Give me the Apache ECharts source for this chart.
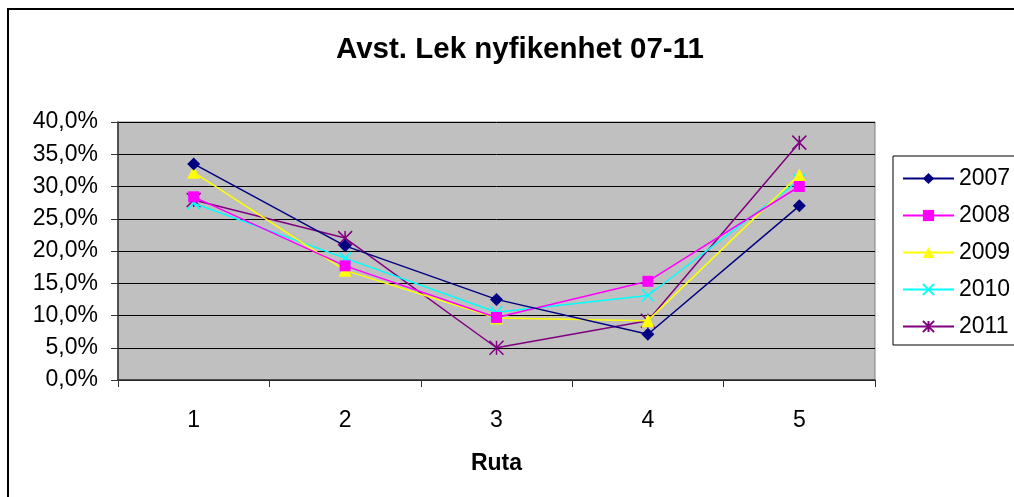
<!DOCTYPE html>
<html>
<head>
<meta charset="utf-8">
<script src="https://cdn.jsdelivr.net/npm/echarts@6/dist/echarts.min.js"></script>
<style>
    html, body { margin: 0; padding: 0; background: #fff; }
    #chart { width: 1014px; height: 497px; }
</style>
</head>
<body>
<div id="chart"></div>
<script>
// Ruta 1-5, andel per år
const categories = ['1', '2', '3', '4', '5'];
const years = ['2007', '2008', '2009', '2010', '2011'];
const y2007 = [0.335, 0.208, 0.125, 0.071, 0.270];
const y2008 = [0.284, 0.177, 0.097, 0.153, 0.300];
const y2009 = [0.322, 0.170, 0.096, 0.092, 0.318];
const y2010 = [0.274, 0.189, 0.105, 0.131, 0.310];
const y2011 = [0.279, 0.220, 0.050, 0.092, 0.368];

const colors = ['#000080', '#FF00FF', '#FFFF00', '#00FFFF', '#800080'];
const symbols = [
    'diamond',
    'rect',
    'triangle',
    'path://M0 0 L10 10 M10 0 L0 10',
    'path://M0 0 L10 10 M10 0 L0 10 M5 0 L5 10'
];
const sizes = [13, 11, 13, 12, 14];
const values = [y2007, y2008, y2009, y2010, y2011];

const font = '"Liberation Sans", Arial, sans-serif';

let chart = echarts.init(document.getElementById('chart'));

const option = {
    animation: false,
    title: {
        text: 'Avst. Lek nyfikenhet 07-11',
        left: 331,
        top: 30,
        textStyle: { fontFamily: font, fontSize: 29.5, fontWeight: 'bold', color: '#000' }
    },
    graphic: [{
        type: 'rect',
        shape: { x: 8, y: 9, width: 1100, height: 600 },
        style: { fill: 'none', stroke: '#000', lineWidth: 2 },
        silent: true
    }],
    legend: {
        orient: 'vertical',
        left: 893,
        top: 156,
        data: years,
        padding: [11, 40, 7, 9],
        itemGap: 14,
        itemWidth: 51,
        itemHeight: 14,
        borderColor: '#000',
        borderWidth: 1,
        textStyle: { fontFamily: font, fontSize: 23, color: '#000', lineHeight: 22 }
    },
    grid: {
        left: 118,
        right: 139,
        top: 122,
        bottom: 117,
        show: true,
        backgroundColor: '#C0C0C0',
        borderColor: '#808080',
        borderWidth: 1
    },
    xAxis: {
        type: 'category',
        data: categories,
        boundaryGap: true,
        name: 'Ruta',
        nameLocation: 'middle',
        nameGap: 72,
        nameTextStyle: { fontFamily: font, fontSize: 23, fontWeight: 'bold', color: '#000' },
        axisLine: { lineStyle: { color: '#333', width: 1.5 } },
        axisTick: { show: true, inside: false, length: 7, alignWithLabel: false, lineStyle: { color: '#333' } },
        axisLabel: { margin: 29, fontFamily: font, fontSize: 23, color: '#000' },
        splitLine: { show: false }
    },
    yAxis: {
        type: 'value',
        min: 0,
        max: 0.4,
        interval: 0.05,
        axisLine: { show: true, lineStyle: { color: '#333', width: 1.5 } },
        axisTick: { show: true, inside: false, length: 7, lineStyle: { color: '#333' } },
        axisLabel: {
            margin: 20,
            fontFamily: font,
            fontSize: 23,
            color: '#000',
            formatter: function (v) {
                return (v * 100).toFixed(1).replace('.', ',') + '%';
            }
        },
        splitLine: { show: true, lineStyle: { color: '#000', width: 1 } }
    },
    series: years.map(function (y, i) {
        return {
            name: y,
            type: 'line',
            data: values[i],
            symbol: symbols[i],
            symbolSize: sizes[i],
            showAllSymbol: true,
            lineStyle: { color: colors[i], width: 1.5 },
            itemStyle: { color: colors[i], borderColor: colors[i], borderWidth: i >= 3 ? 1.5 : 0 },
            z: 10 - i
        };
    })
};

chart.setOption(option);
window.addEventListener('resize', function () {
    chart.resize();
});
</script>
</body>
</html>
